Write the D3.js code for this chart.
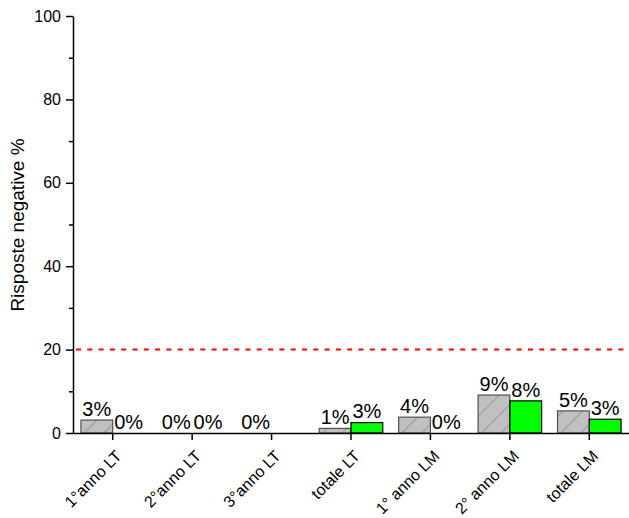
<!DOCTYPE html>
<html>
<head>
<meta charset="utf-8">
<script src="https://cdn.jsdelivr.net/npm/d3@7"></script>
<style>
body{margin:0;background:#fff;}
text{font-family:Arial,"Liberation Sans",sans-serif;}
</style>
</head>
<body>
<svg id="chart" width="629" height="518"></svg>
<script>
const categories = ["1°anno LT","2°anno LT","3°anno LT","totale LT","1° anno LM","2° anno LM","totale LM"];
const seriesGrey = [3.1, 0, 0, 1.1, 3.8, 9.1, 5.3];
const seriesGreen = [0, 0, null, 2.5, 0, 7.7, 3.3];
const yTicks = [0, 20, 40, 60, 80, 100];
const yMinorTicks = [10, 30, 50, 70, 90];
const threshold = 20;

(function(){
const svg = d3.select("#chart");
const mLeft = 73, mRight = 629, mTop = 16, mBottom = 433;
const FONT = "Arial, 'Liberation Sans', sans-serif";

const x = d3.scaleBand().domain(categories).range([mLeft, mRight]).paddingInner(0.2).paddingOuter(0.1);
const y = d3.scaleLinear().domain([0, 100]).range([mBottom, mTop]);
const series = ["grey","green"];
const xs = d3.scaleBand().domain(series).range([0, x.bandwidth()]);

const defs = svg.append("defs");
const pat = defs.append("pattern").attr("id","hatch").attr("patternUnits","userSpaceOnUse")
  .attr("width",14).attr("height",14).attr("patternTransform","rotate(45)");
pat.append("rect").attr("width",14).attr("height",14).attr("fill","#c0c0c0");
pat.append("line").attr("x1",0).attr("y1",0).attr("x2",0).attr("y2",14).attr("stroke","#707070").attr("stroke-width",1);

const rows = categories.map((c,i)=>({cat:c, vals:[{s:"grey",v:seriesGrey[i]},{s:"green",v:seriesGreen[i]}]}));

const g = svg.append("g");
const groups = g.selectAll("g.grp").data(rows).join("g").attr("class","grp")
  .attr("transform", d=>`translate(${x(d.cat)},0)`);

groups.selectAll("rect").data(d=>d.vals.filter(v=>v.v!==null && v.v>0)).join("rect")
  .attr("x", d=>xs(d.s)).attr("width", xs.bandwidth())
  .attr("y", d=>y(d.v)).attr("height", d=>y(0)-y(d.v))
  .attr("fill", d=>d.s==="grey"?"url(#hatch)":"#00ff00")
  .attr("stroke", d=>d.s==="grey"?"#505050":"#000")
  .attr("stroke-width",1.2);

groups.selectAll("text").data(d=>d.vals.filter(v=>v.v!==null)).join("text")
  .attr("x", d=>xs(d.s)+xs.bandwidth()/2)
  .attr("y", d=>y(d.v)-4.3)
  .attr("text-anchor","middle")
  .attr("font-size",20)
  .attr("fill","#000")
  .text(d=>Math.round(d.v)+"%");

svg.append("line").attr("x1",mLeft+3).attr("x2",mRight).attr("y1",y(threshold)).attr("y2",y(threshold))
  .attr("stroke","#ff0000").attr("stroke-width",2).attr("stroke-dasharray","5,6.3");

const yAxis = svg.append("g").attr("transform",`translate(${mLeft},0)`)
  .call(d3.axisLeft(y).tickValues(yTicks).tickSize(7).tickPadding(5).tickSizeOuter(0));
svg.append("g").attr("transform",`translate(${mLeft},0)`)
  .call(d3.axisLeft(y).tickValues(yMinorTicks).tickSize(4).tickFormat("").tickSizeOuter(0))
  .select(".domain").remove();
yAxis.selectAll("text").attr("font-size",16).attr("fill","#000").style("font-family",FONT);
svg.selectAll(".tick line").attr("stroke","#000").attr("stroke-width",1.5);
yAxis.select(".domain").attr("stroke","#000").attr("stroke-width",1.5);

const xAxis = svg.append("g").attr("transform",`translate(0,${mBottom})`)
  .call(d3.axisBottom(x).tickSize(7).tickSizeOuter(0).tickFormat(""));
xAxis.select(".domain").attr("stroke","#000").attr("stroke-width",1.5);
xAxis.selectAll(".tick line").attr("stroke","#000").attr("stroke-width",1.5);
xAxis.selectAll(".tick").append("text")
  .attr("text-anchor","end")
  .attr("transform","translate(10,24) rotate(-45)")
  .attr("font-size",16).attr("fill","#000")
  .style("font-family",FONT)
  .text(d=>d);

svg.append("text").attr("transform",`translate(24,225) rotate(-90)`)
  .attr("text-anchor","middle").attr("font-size",19).attr("fill","#000")
  .text("Risposte negative %");
})();
</script>
</body>
</html>
